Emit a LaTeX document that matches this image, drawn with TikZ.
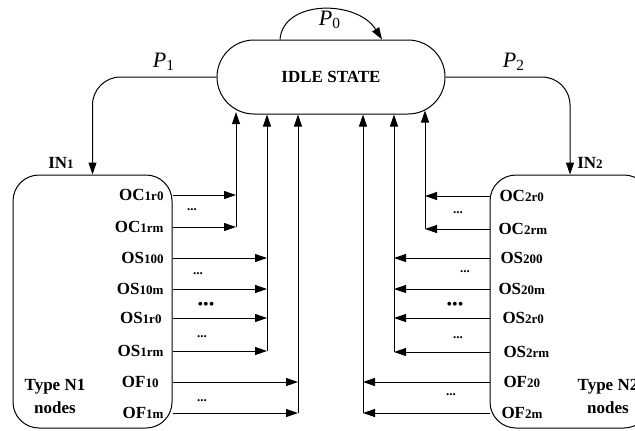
\documentclass[tikz,border=0pt]{standalone}
\usepackage{fontspec}
\setmainfont{Liberation Serif}
\usetikzlibrary{arrows.meta,shapes.misc}

\newcommand{\lo}[1]{{\fontsize{6.5}{7}\selectfont #1}}

\tikzset{
  state/.style={draw, rounded rectangle, minimum width=114pt, minimum height=37pt, inner sep=0pt},
  group/.style={draw, rounded corners=13pt, minimum height=126.5pt},
  lab/.style={inner sep=1pt},
  dots/.style={inner sep=0pt, font=\fontsize{6.5}{7}\selectfont\bfseries},
  plab/.style={font=\fontsize{11}{12}\selectfont},
  tlab/.style={align=center, font=\fontsize{8.5}{11.5}\selectfont\bfseries}
}

\begin{document}
\begin{tikzpicture}[x=0.5pt, y=-0.5pt, line width=0.5pt,
    >={Triangle[length=6pt,width=4pt]}, font=\fontsize{8.5}{10}\selectfont\bfseries]
  \useasboundingbox (0,0) rectangle (635,430);
  \clip (0,0) rectangle (635,430);

  \node [state] (IDLE) at (331, 77) {IDLE STATE};
  \node [group, minimum width=79.5pt] (N1) at (92.5, 301.5) {};
  \node [group, minimum width=80pt] (N2) at (570, 301.5) {};

  % transitions out of the idle state
  \draw [->] ([xshift=-25.5pt]IDLE.north) .. controls +(3,-40) and +(-25,-40) .. ([xshift=25.5pt]IDLE.north);
  \draw [->, rounded corners=14pt] (IDLE.west) -| (N1.north);
  \draw [->, rounded corners=14pt] (IDLE.east) -| (N2.north);
  \node [plab] (P0) at (330, 20) {\textit{P}\textsubscript{0}};
  \node [plab] (P1) at (164, 62) {\textit{P}\textsubscript{1}};
  \node [plab] (P2) at (514, 62) {\textit{P}\textsubscript{2}};
  \node (IN1) at (61, 163) {IN\lo{1}};
  \node (IN2) at (590, 163) {IN\lo{2}};

  % outputs of the type N1 nodes
  \node [lab, anchor=east] (OC1r0) at (166, 195) {OC\lo{1r0}};
  \node [lab, anchor=east] (OC1rm) at (166, 227) {OC\lo{1rm}};
  \node [lab, anchor=east] (OS100) at (166, 258) {OS\lo{100}};
  \node [lab, anchor=east] (OS10m) at (166, 289) {OS\lo{10m}};
  \node [lab, anchor=east] (OS1r0) at (164, 318) {OS\lo{1r0}};
  \node [lab, anchor=east] (OS1rm) at (166, 351) {OS\lo{1rm}};
  \node [lab, anchor=east] (OF10) at (161, 382) {OF\lo{10}};
  \node [lab, anchor=east] (OF1m) at (166, 413) {OF\lo{1m}};
  \node [tlab] (T1) at (55, 396) {Type N1\\nodes};

  \coordinate (BC1) at (236, 114);
  \coordinate (BS1) at (267, 114);
  \coordinate (BF1) at (298, 114);

  \draw [->] (N1.east |- OC1r0) -- (BC1 |- OC1r0);
  \draw [->] (N1.east |- OC1rm) -- (BC1 |- OC1rm);
  \draw [->] (N1.east |- OS100) -- (BS1 |- OS100);
  \draw [->] (N1.east |- OS10m) -- (BS1 |- OS10m);
  \draw [->] (N1.east |- OS1r0) -- (BS1 |- OS1r0);
  \draw [->] (N1.east |- OS1rm) -- (BS1 |- OS1rm);
  \draw [->] (N1.east |- OF10) -- (BF1 |- OF10);
  \draw [->] (N1.east |- OF1m) -- (BF1 |- OF1m);
  \draw [->, shorten >=-1.2pt] (BC1 |- OC1rm) -- (BC1 |- IDLE.south);
  \draw [->] (BS1 |- OS1rm) -- (BS1 |- IDLE.south);
  \draw [->] (BF1 |- OF1m) -- (BF1 |- IDLE.south);

  \node [dots] (D1) at (192, 210) {...};
  \node [dots] (D2) at (198, 274) {...};
  \node [dots, font=\fontsize{8}{8}\selectfont] (D3) at (206, 306) {\textbullet\textbullet\textbullet};
  \node [dots] (D4) at (202, 337) {...};
  \node [dots] (D5) at (202, 401) {...};

  % outputs of the type N2 nodes
  \node [lab, anchor=west] (OC2r0) at (497, 196) {OC\lo{2r0}};
  \node [lab, anchor=west] (OC2rm) at (496, 229) {OC\lo{2rm}};
  \node [lab, anchor=west] (OS200) at (498, 258) {OS\lo{200}};
  \node [lab, anchor=west] (OS20m) at (496, 289) {OS\lo{20m}};
  \node [lab, anchor=west] (OS2r0) at (500, 318) {OS\lo{2r0}};
  \node [lab, anchor=west] (OS2rm) at (501, 352) {OS\lo{2rm}};
  \node [lab, anchor=west] (OF20) at (501, 382) {OF\lo{20}};
  \node [lab, anchor=west] (OF2m) at (499, 413) {OF\lo{2m}};
  \node [tlab] (T2) at (608, 396) {Type N2\\nodes};

  \coordinate (BC2) at (425, 114);
  \coordinate (BS2) at (394, 114);
  \coordinate (BF2) at (363, 114);

  \draw [->] (N2.west |- OC2r0) -- (BC2 |- OC2r0);
  \draw [->] (N2.west |- OC2rm) -- (BC2 |- OC2rm);
  \draw [->] (N2.west |- OS200) -- (BS2 |- OS200);
  \draw [->] (N2.west |- OS20m) -- (BS2 |- OS20m);
  \draw [->] (N2.west |- OS2r0) -- (BS2 |- OS2r0);
  \draw [->] (N2.west |- OS2rm) -- (BS2 |- OS2rm);
  \draw [->] (N2.west |- OF20) -- (BF2 |- OF20);
  \draw [->] (N2.west |- OF2m) -- (BF2 |- OF2m);
  \draw [->, shorten >=-2pt] (BC2 |- OC2rm) -- (BC2 |- IDLE.south);
  \draw [->] (BS2 |- OS2rm) -- (BS2 |- IDLE.south);
  \draw [->] (BF2 |- OF2m) -- (BF2 |- IDLE.south);

  \node [dots] (D6) at (458, 213) {...};
  \node [dots] (D7) at (465, 272) {...};
  \node [dots, font=\fontsize{8}{8}\selectfont] (D8) at (455, 306) {\textbullet\textbullet\textbullet};
  \node [dots] (D9) at (458, 338) {...};
  \node [dots] (D10) at (451, 395) {...};
\end{tikzpicture}
\end{document}
